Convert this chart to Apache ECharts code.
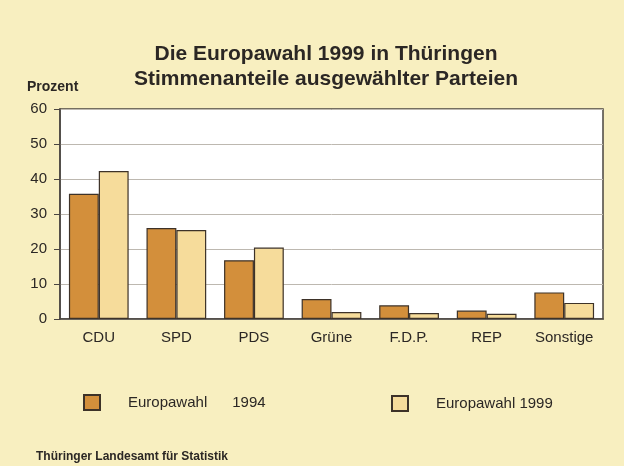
<!DOCTYPE html>
<html>
<head>
<meta charset="utf-8">
<script src="https://cdn.jsdelivr.net/npm/echarts@6/dist/echarts.min.js"></script>
<style>html,body{margin:0;padding:0;background:#f8efc0;}#c{width:624px;height:466px;}</style>
</head>
<body>
<div id="c"></div>
<script>
const categories = ['CDU', 'SPD', 'PDS', 'Grüne', 'F.D.P.', 'REP', 'Sonstige'];
const seriesNames = ['Europawahl 1994', 'Europawahl 1999'];
const values1994 = [35.8, 26.0, 16.8, 5.7, 3.9, 2.4, 7.6];
const values1999 = [42.3, 25.4, 20.4, 2.0, 1.7, 1.5, 4.6];
const yTicks = [0, 10, 20, 30, 40, 50, 60];

const FONT = '"Liberation Sans", Arial, sans-serif';
const TXT = '#2b2724';
const chart = echarts.init(document.getElementById('c'), null, {renderer: 'canvas'});
chart.setOption({
  backgroundColor: '#f8efc0',
  animation: false,
  textStyle: {fontFamily: FONT, color: TXT},
  title: {
    text: 'Die Europawahl 1999 in Thüringen\nStimmenanteile ausgewählter Parteien',
    left: 321, top: 37, textAlign: 'center',
    textStyle: {fontFamily: FONT, fontWeight: 'bold', fontSize: 21, lineHeight: 25, color: TXT}
  },
  graphic: [
    {type: 'text', left: 27, top: 80, style: {text: 'Prozent', font: 'bold 14px ' + FONT, fill: TXT}},
    {type: 'text', left: 36, top: 451, style: {text: 'Thüringer Landesamt für Statistik', font: 'bold 12px ' + FONT, fill: TXT}}
  ],
  legend: [
    {data: [seriesNames[0]], left: 83, top: 394, padding: 0, itemWidth: 16, itemHeight: 15, icon: 'rect',
     formatter: n => n.replace(' ', '      '),
     textStyle: {fontFamily: FONT, fontSize: 15, color: TXT, padding: [0, 0, 0, 23]}},
    {data: [seriesNames[1]], left: 391, top: 395, padding: 0, itemWidth: 16, itemHeight: 15, icon: 'rect',
     textStyle: {fontFamily: FONT, fontSize: 15, color: TXT, padding: [0, 0, 0, 23]}}
  ],
  grid: {left: 60, right: 21, top: 109, bottom: 147, show: true, backgroundColor: '#ffffff', borderColor: '#4a4540', borderWidth: 1.5},
  xAxis: {
    type: 'category', data: categories,
    axisLine: {lineStyle: {color: '#4a4540', width: 1.5}},
    axisTick: {show: false},
    axisLabel: {fontFamily: FONT, fontSize: 15, color: TXT, margin: 11}
  },
  yAxis: {
    type: 'value', min: 0, max: 60, interval: 10,
    axisLine: {show: true, lineStyle: {color: '#4a4540', width: 1.5}},
    axisTick: {show: true, length: 6, lineStyle: {color: '#4a4540'}},
    axisLabel: {fontFamily: FONT, fontSize: 15, color: TXT, margin: 13,
      formatter: v => yTicks.includes(v) ? String(v) : ''},
    splitLine: {show: true, lineStyle: {color: '#bdb8b0', width: 1}}
  },
  series: [
    {name: seriesNames[0], type: 'bar', data: values1994, barGap: '0%', barCategoryGap: '23%',
     itemStyle: {color: '#d38f3b', borderColor: '#3d3228', borderWidth: 1.2}},
    {name: seriesNames[1], type: 'bar', data: values1999, barGap: '0%', barCategoryGap: '23%',
     itemStyle: {color: '#f6dc9b', borderColor: '#3d3228', borderWidth: 1.2}}
  ]
});
</script>
</body>
</html>
